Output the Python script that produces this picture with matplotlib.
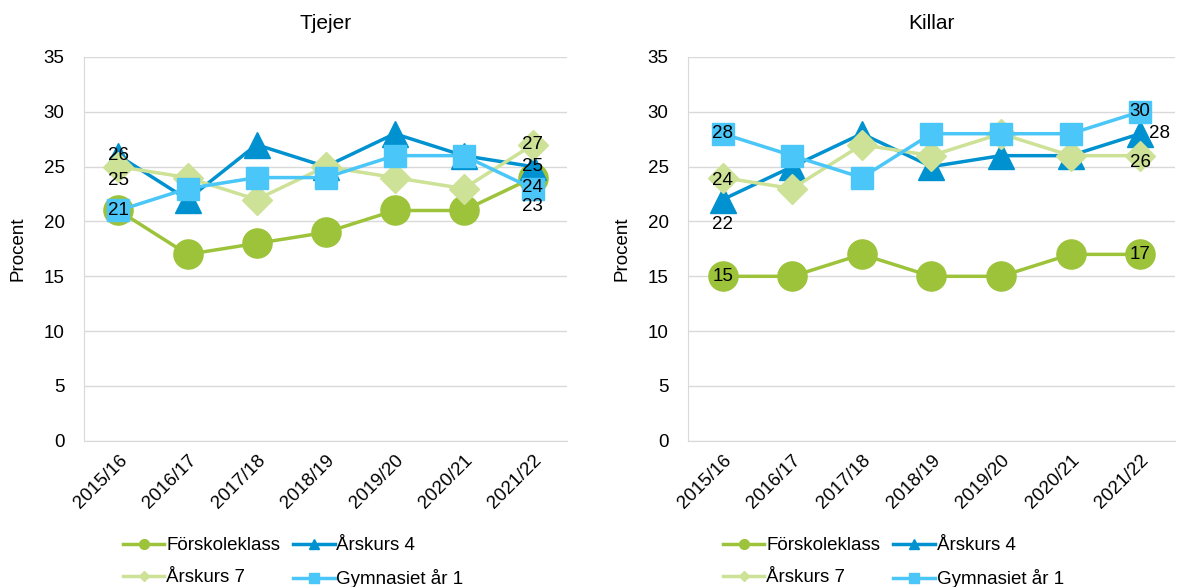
import matplotlib.pyplot as plt
from matplotlib.lines import Line2D

plt.rcParams['font.family'] = ['Liberation Sans', 'DejaVu Sans']

years = ["2015/16", "2016/17", "2017/18", "2018/19", "2019/20", "2020/21", "2021/22"]
series = ["Förskoleklass", "Årskurs 4", "Årskurs 7", "Gymnasiet år 1"]

tjejer_fsk = [21, 17, 18, 19, 21, 21, 24]
tjejer_ak4 = [26, 22, 27, 25, 28, 26, 25]
tjejer_ak7 = [25, 24, 22, 25, 24, 23, 27]
tjejer_gym = [21, 23, 24, 24, 26, 26, 23]

killar_fsk = [15, 15, 17, 15, 15, 17, 17]
killar_ak4 = [22, 25, 28, 25, 26, 26, 28]
killar_ak7 = [24, 23, 27, 26, 28, 26, 26]
killar_gym = [28, 26, 24, 28, 28, 28, 30]

colors = ['#9DC33B', '#0092D0', '#CDE197', '#4AC6F8']
markers = ['o', '^', 'D', 's']
msizes = [21, 19, 15, 16]

# label offsets (points) for first / last value of each series, None = no label
tj_off = [[None, (0, -7)], [(0, 0), (0, 0)], [(0, -10), (0, 0)], [(0, 0), (0, -13)]]
ki_off = [[(0, 0), (0, 0)], [(0, -18), (14, 0)], [(0, -2), (0, -5)], [(0, 0), (0, 0)]]

fig = plt.figure(figsize=(11.79, 5.87), dpi=100)
ax1 = fig.add_axes([0.0712, 0.249, 0.41, 0.654])
ax2 = fig.add_axes([0.5835, 0.249, 0.413, 0.654])

panels = [
    (ax1, "Tjejer", [tjejer_fsk, tjejer_ak4, tjejer_ak7, tjejer_gym], tj_off),
    (ax2, "Killar", [killar_fsk, killar_ak4, killar_ak7, killar_gym], ki_off),
]

x = list(range(len(years)))
order = [0, 2, 1, 3]  # row-wise legend order
for ax, title, data, offs in panels:
    for i, vals in enumerate(data):
        ax.plot(x, vals, color=colors[i], marker=markers[i], markersize=msizes[i],
                linewidth=2.5, zorder=3 + i)
    for i, vals in enumerate(data):
        for j, idx in enumerate([0, len(vals) - 1]):
            off = offs[i][j]
            if off is None:
                continue
            ax.annotate(str(vals[idx]), (x[idx], vals[idx]), xytext=off,
                        textcoords='offset points', ha='center', va='center',
                        fontsize=13.5, zorder=10)
    ax.set_xlim(-0.5, len(years) - 0.5)
    ax.set_ylim(0, 35)
    ax.set_yticks(range(0, 36, 5))
    ax.set_xticks(x)
    ax.set_xticklabels(years, rotation=45, ha='right', rotation_mode='anchor')
    ax.tick_params(axis='y', length=0, labelsize=13.5, pad=14)
    ax.tick_params(axis='x', length=0, labelsize=13.5, pad=8)
    ax.grid(axis='y', color='#D9D9D9', linewidth=1)
    ax.set_axisbelow(True)
    for s in ['top', 'right']:
        ax.spines[s].set_visible(False)
    for s in ['left', 'bottom']:
        ax.spines[s].set_color('#D9D9D9')
    ax.set_title(title, fontsize=15, pad=20)
    ax.set_ylabel("Procent", fontsize=13.5, labelpad=12)

    handles = [Line2D([], [], color=colors[i], marker=markers[i], markersize=7 if i != 2 else 5,
                      linewidth=2.5) for i in order]
    labels = [series[i] for i in order]
    leg_x = 0.098 if ax is ax1 else 0.607
    fig.legend(handles, labels, loc='upper left', bbox_to_anchor=(leg_x, 0.098),
               ncol=2, frameon=False, fontsize=13.5, handlelength=2.2,
               handletextpad=0.1, columnspacing=0.7, labelspacing=0.8,
               borderaxespad=0)

fig.savefig("out.png", dpi=100)
